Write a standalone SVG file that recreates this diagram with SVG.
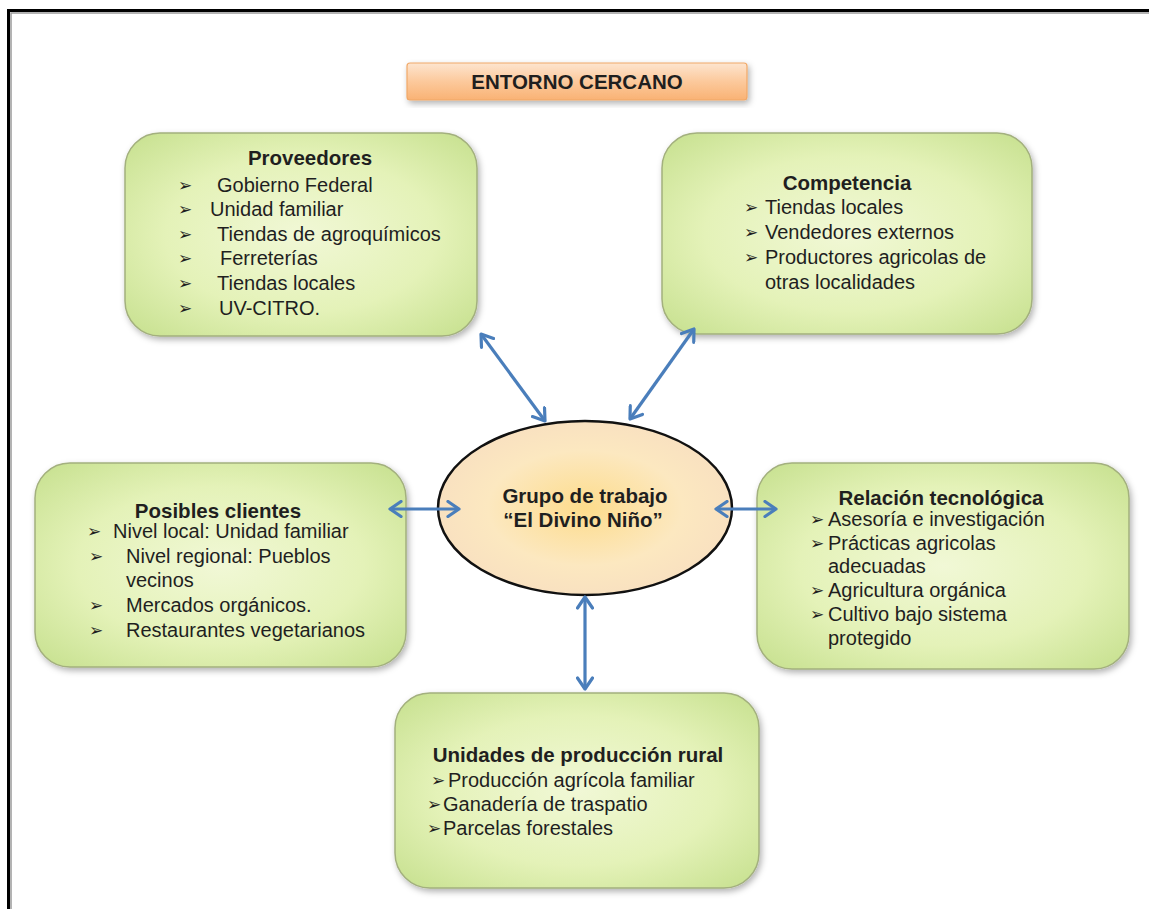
<svg xmlns="http://www.w3.org/2000/svg" width="1149" height="909" viewBox="0 0 1149 909">
<defs>
  <radialGradient id="gGreen" cx="50%" cy="50%" r="70%">
    <stop offset="0" stop-color="#f1f8d6"/>
    <stop offset="0.55" stop-color="#e4f2b8"/>
    <stop offset="1" stop-color="#c6e08e"/>
  </radialGradient>
  <radialGradient id="gEll" cx="50%" cy="50%" r="55%">
    <stop offset="0" stop-color="#fddc8c"/>
    <stop offset="0.6" stop-color="#fce8c0"/>
    <stop offset="1" stop-color="#f8dfc0"/>
  </radialGradient>
  <linearGradient id="gOrange" x1="0" y1="0" x2="0" y2="1">
    <stop offset="0" stop-color="#fde5cf"/>
    <stop offset="0.5" stop-color="#fcc99c"/>
    <stop offset="1" stop-color="#f9b274"/>
  </linearGradient>
  <filter id="sh" x="-10%" y="-10%" width="125%" height="130%">
    <feDropShadow dx="2" dy="3" stdDeviation="3" flood-color="#000" flood-opacity="0.3"/>
  </filter>
  <marker id="ah" viewBox="-13 -9 15 18" refX="0" refY="0" markerWidth="15" markerHeight="18" markerUnits="userSpaceOnUse" orient="auto-start-reverse">
    <path d="M-11,-7.5 L0,0 L-11,7.5" fill="none" stroke="#4a7ebb" stroke-width="3.2" stroke-linecap="round" stroke-linejoin="round"/>
  </marker>
</defs>
<style>
  .box { fill: url(#gGreen); stroke: #a3b07e; stroke-width: 1.5; filter: url(#sh); }
  .t { font-family: "Liberation Sans", Arial, sans-serif; font-size: 20px; fill: #1f1f1f; }
  .h { font-family: "Liberation Sans", Arial, sans-serif; font-size: 20.5px; font-weight: bold; fill: #1f1f1f; text-anchor: middle; }
  .b { font-family: "DejaVu Sans", sans-serif; font-size: 17px; fill: #1f1f1f; }
  .con { stroke: #4a7ebb; stroke-width: 3.2; fill: none; marker-start: url(#ah); marker-end: url(#ah); }
</style>
<rect x="0" y="0" width="1149" height="909" fill="#ffffff"/>
<path d="M8.5,909 V10.5 H1149" fill="none" stroke="#000" stroke-width="3"/>
<path d="M11,909 V13 H1149" fill="none" stroke="#9a9a9a" stroke-width="1.5"/>

<g id="titulo">
  <rect x="407" y="63" width="340" height="37" rx="3" fill="url(#gOrange)" stroke="#f0a868" stroke-width="1.2" filter="url(#sh)"/>
  <text class="h" x="577" y="89">ENTORNO CERCANO</text>
</g>

<g id="proveedores">
  <rect class="box" x="125" y="133" width="352" height="203" rx="35"/>
  <text class="h" x="310" y="165">Proveedores</text>
  <text class="b" x="178" y="191">➢</text><text class="t" x="217" y="192">Gobierno Federal</text>
  <text class="b" x="178" y="215">➢</text><text class="t" x="210" y="216">Unidad familiar</text>
  <text class="b" x="178" y="240">➢</text><text class="t" x="217" y="241">Tiendas de agroquímicos</text>
  <text class="b" x="178" y="264">➢</text><text class="t" x="220" y="265">Ferreterías</text>
  <text class="b" x="178" y="289">➢</text><text class="t" x="217" y="290">Tiendas locales</text>
  <text class="b" x="178" y="314">➢</text><text class="t" x="219" y="315">UV-CITRO.</text>
</g>

<g id="competencia">
  <rect class="box" x="662" y="133" width="370" height="201" rx="35"/>
  <text class="h" x="847" y="190">Competencia</text>
  <text class="b" x="744" y="213">➢</text><text class="t" x="765" y="214">Tiendas locales</text>
  <text class="b" x="744" y="238">➢</text><text class="t" x="765" y="239">Vendedores externos</text>
  <text class="b" x="744" y="263">➢</text><text class="t" x="765" y="264">Productores agricolas de</text>
  <text class="t" x="765" y="289">otras localidades</text>
</g>

<g id="clientes">
  <rect class="box" x="35" y="463" width="371" height="204" rx="35"/>
  <text class="h" x="218" y="518">Posibles clientes</text>
  <text class="b" x="87" y="537">➢</text><text class="t" x="113" y="538">Nivel local: Unidad familiar</text>
  <text class="b" x="89" y="562">➢</text><text class="t" x="126" y="563">Nivel regional: Pueblos</text>
  <text class="t" x="126" y="587">vecinos</text>
  <text class="b" x="89" y="611">➢</text><text class="t" x="126" y="612">Mercados orgánicos.</text>
  <text class="b" x="89" y="636">➢</text><text class="t" x="126" y="637">Restaurantes vegetarianos</text>
</g>

<g id="grupo">
  <ellipse cx="585" cy="508" rx="147" ry="87" fill="url(#gEll)" stroke="#111" stroke-width="2.5"/>
  <text class="h" x="585" y="503">Grupo de trabajo</text>
  <text class="h" x="583" y="527">“El Divino Niño”</text>
</g>

<g id="tecnologica">
  <rect class="box" x="757" y="463" width="372" height="206" rx="35"/>
  <text class="h" x="941" y="505">Relación tecnológica</text>
  <text class="b" x="810" y="525">➢</text><text class="t" x="828" y="526">Asesoría e investigación</text>
  <text class="b" x="810" y="549">➢</text><text class="t" x="828" y="550">Prácticas agricolas</text>
  <text class="t" x="828" y="573">adecuadas</text>
  <text class="b" x="810" y="596">➢</text><text class="t" x="828" y="597">Agricultura orgánica</text>
  <text class="b" x="810" y="620">➢</text><text class="t" x="828" y="621">Cultivo bajo sistema</text>
  <text class="t" x="828" y="645">protegido</text>
</g>

<g id="unidades">
  <rect class="box" x="395" y="693" width="364" height="195" rx="35"/>
  <text class="h" x="578" y="762">Unidades de producción rural</text>
  <text class="b" x="431" y="786">➢</text><text class="t" x="448" y="787">Producción agrícola familiar</text>
  <text class="b" x="427" y="810">➢</text><text class="t" x="443" y="811">Ganadería de traspatio</text>
  <text class="b" x="427" y="834">➢</text><text class="t" x="443" y="835">Parcelas forestales</text>
</g>

<g id="connectors">
  <line class="con" x1="481" y1="334" x2="545" y2="421"/>
  <line class="con" x1="694" y1="329" x2="630" y2="419"/>
  <line class="con" x1="390" y1="509" x2="459" y2="509"/>
  <line class="con" x1="716" y1="509" x2="776" y2="509"/>
  <line class="con" x1="585" y1="597" x2="585" y2="689"/>
</g>
</svg>
